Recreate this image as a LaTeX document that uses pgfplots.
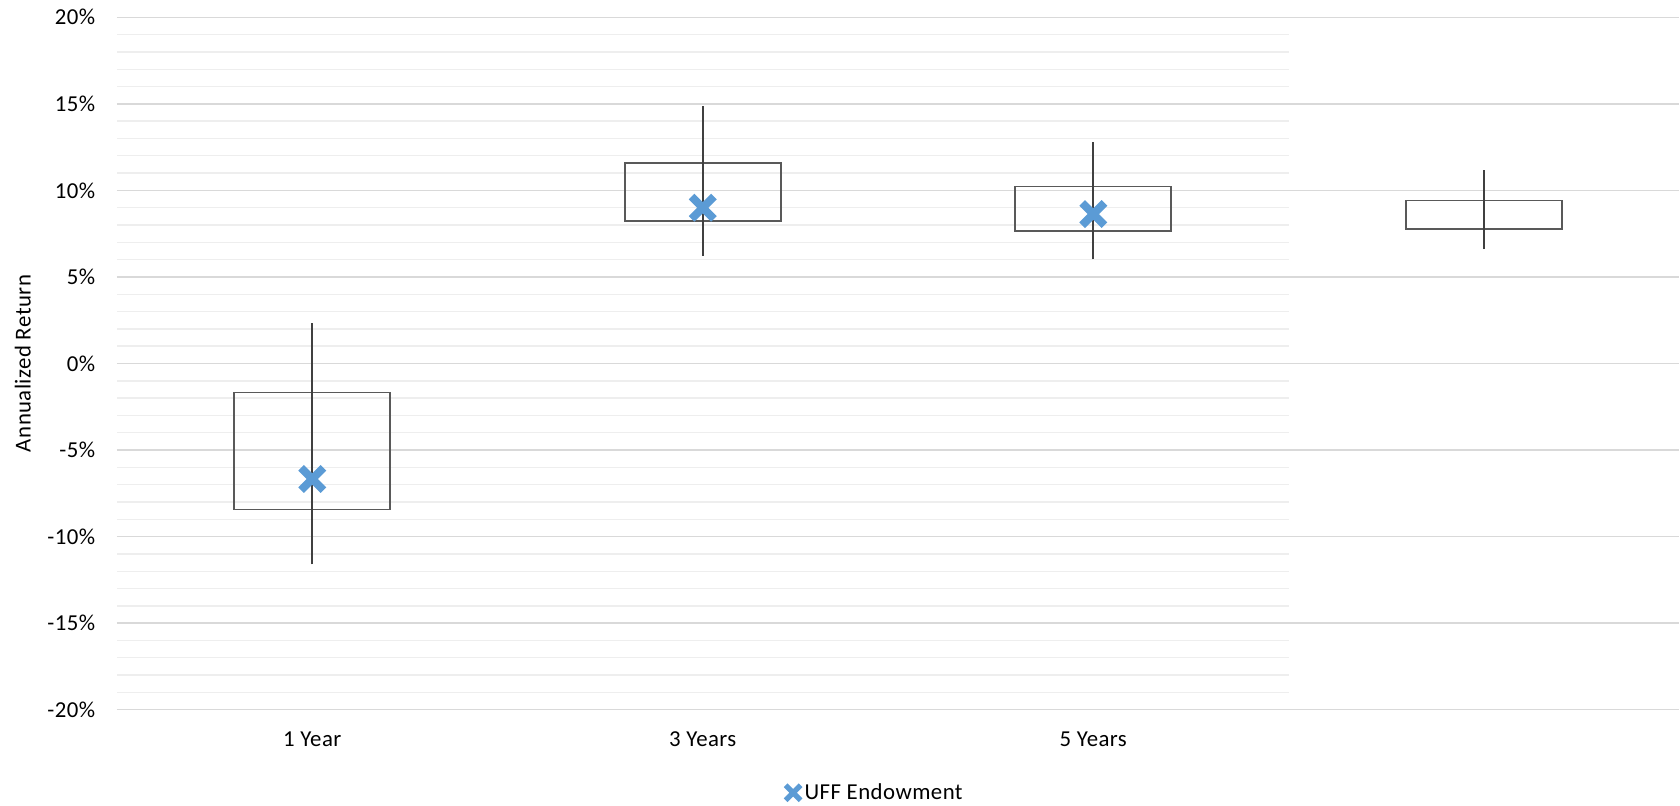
\documentclass[border=0pt]{standalone}
\usepackage{fontspec}
\setmainfont{Carlito}[LetterSpace=2]
\usepackage{pgfplots}
\pgfplotsset{compat=1.18}
\definecolor{boxgray}{HTML}{595959}
\definecolor{whiskgray}{HTML}{404040}
\definecolor{gridmajor}{HTML}{D9D9D9}
\definecolor{gridminor}{HTML}{EEEEEE}
\definecolor{uffblue}{HTML}{5B9BD5}
\begin{document}
\begin{tikzpicture}
\pgfplotsset{every axis/.append style={scale only axis, height=346.2pt, ymin=-20, ymax=20,
  font=\fontsize{11.4}{13.7}\selectfont, axis line style={draw=none}, major tick length=0, minor tick length=0}}
% minor grid lines: only across the first three categories
\begin{axis}[width=585.75pt, xmin=-0.5, xmax=2.5, xtick=\empty,
  ytick={-20,-15,...,20}, yticklabels={},
  minor ytick={-19,-18,-17,-16,-14,-13,-12,-11,-9,-8,-7,-6,-4,-3,-2,-1,1,2,3,4,6,7,8,9,11,12,13,14,16,17,18,19},
  yminorgrids, minor grid style={color=gridminor, line width=0.7pt}]
\end{axis}
\begin{axis}[width=781pt, xmin=-0.5, xmax=3.5,
  xtick={0,1,2}, xticklabels={1 Year,3 Years,5 Years},
  xticklabel style={anchor=base, yshift=-18.5pt},
  ytick={-20,-15,...,20}, ymajorgrids, major grid style={color=gridmajor, line width=0.75pt},
  /pgf/number format/assume math mode=true,
  yticklabel={\pgfmathprintnumber{\tick}\%},
  yticklabel style={anchor=east, xshift=-7.4pt},
  ylabel={Annualized Return},
  ylabel style={at={(axis description cs:-0.0603,0.5)}, anchor=center},
  clip=false,
  legend style={at={(axis description cs:0.486,-0.12)}, anchor=center, draw=none, fill=none,
    inner sep=0pt, font=\fontsize{11.4}{13.7}\selectfont},
  legend image code/.code={\draw[mark=x, mark size=5.3pt, line width=2.6pt] plot coordinates {(0.12cm,0cm)};}
  ]
% boxes (lower / upper bounds)
\addplot[boxgray, line width=0.9pt, line cap=rect, line join=miter, forget plot] coordinates {(-0.2,-8.43) (0.2,-8.43) (0.2,-1.68) (-0.2,-1.68) (-0.2,-8.43)};
\addplot[boxgray, line width=0.9pt, line cap=rect, line join=miter, forget plot] coordinates {(0.8,8.25) (1.2,8.25) (1.2,11.6) (0.8,11.6) (0.8,8.25)};
\addplot[boxgray, line width=0.9pt, line cap=rect, line join=miter, forget plot] coordinates {(1.8,7.65) (2.2,7.65) (2.2,10.22) (1.8,10.22) (1.8,7.65)};
\addplot[boxgray, line width=0.9pt, line cap=rect, line join=miter, forget plot] coordinates {(2.8,7.78) (3.2,7.78) (3.2,9.42) (2.8,9.42) (2.8,7.78)};
% whiskers (low / high)
\addplot[whiskgray, line width=0.9pt, forget plot] coordinates {(0,-11.6) (0,2.33)};
\addplot[whiskgray, line width=0.9pt, forget plot] coordinates {(1,6.22) (1,14.88)};
\addplot[whiskgray, line width=0.9pt, forget plot] coordinates {(2,6.02) (2,12.8)};
\addplot[whiskgray, line width=0.9pt, forget plot] coordinates {(3,6.6) (3,11.16)};
% UFF Endowment
\addplot[only marks, mark=x, mark size=7.9pt, line width=4pt, color=uffblue] coordinates {(0,-6.67) (1,9.0) (2,8.63)};
\addlegendentry{UFF Endowment}
\end{axis}
\pgfresetboundingbox
\path[use as bounding box] (-58.5pt,-48.15pt) rectangle (781.5pt,354.85pt);
\end{tikzpicture}
\end{document}
